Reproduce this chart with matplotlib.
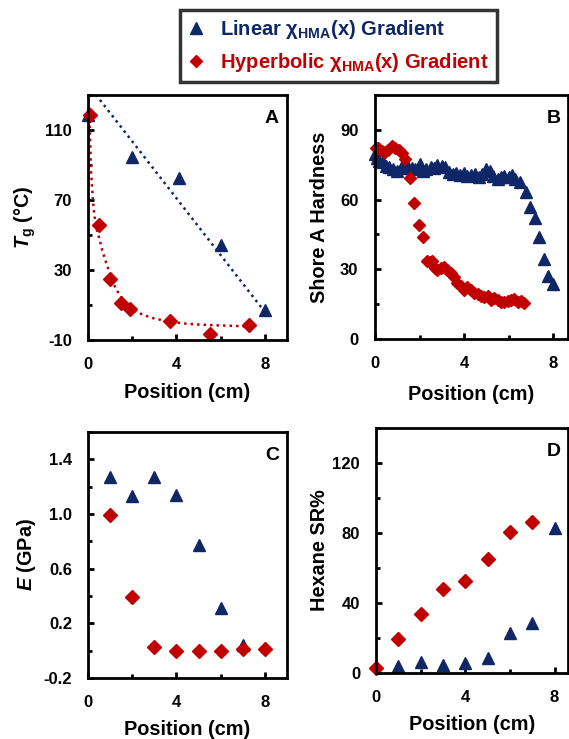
import numpy as np
import matplotlib
matplotlib.use("Agg")
import matplotlib.pyplot as plt
from matplotlib.lines import Line2D
from matplotlib.ticker import MultipleLocator

plt.rcParams['font.family'] = ['Liberation Sans', 'DejaVu Sans']
plt.rcParams['font.weight'] = 'bold'
plt.rcParams['axes.unicode_minus'] = False
plt.rcParams['mathtext.fontset'] = 'custom'
plt.rcParams['mathtext.rm'] = 'Liberation Sans:bold'
plt.rcParams['mathtext.bf'] = 'Liberation Sans:bold'
plt.rcParams['mathtext.it'] = 'Liberation Sans:italic:bold'
plt.rcParams['mathtext.bfit'] = 'Liberation Sans:italic:bold'

NAVY = '#0f2766'
RED = '#c00000'

# ---- panel A: Tg ----
tg_lin_x = [0.0, 2.0, 4.1, 6.0, 8.0]
tg_lin_y = [118.5, 94.7, 82.6, 44.1, 7.3]
tg_hyp_x = [0.1, 0.5, 1.0, 1.5, 1.9, 3.7, 5.5, 7.3]
tg_hyp_y = [118.6, 55.7, 25.0, 11.1, 7.7, 1.1, -6.7, -1.6]
# dotted trend lines
tg_lin_fit_x = [0.0, 8.0]
tg_lin_fit_y = [136.0, 6.0]
tg_hyp_fit_x = [0.0, 0.04, 0.07, 0.14, 0.22, 0.29, 0.4, 0.52, 0.66, 0.82, 1.0, 1.13,
                1.35, 1.58, 1.9, 2.18, 2.5, 2.93, 3.4, 3.83, 4.4, 5.03, 5.8, 6.54, 7.31]
tg_hyp_fit_y = [131.0, 124.0, 114.8, 86.0, 70.0, 61.0, 53.0, 47.6, 40.5, 34.2, 27.5, 22.6,
                17.5, 13.0, 9.0, 6.3, 4.3, 2.5, 1.2, 0.2, -0.6, -1.2, -1.6, -1.9, -2.3]

# ---- panel B: Shore A hardness ----
sh_lin_x = [0.0, 0.1, 0.2, 0.35, 0.5, 0.65, 0.8, 1.0, 1.15, 1.3, 1.5, 1.65, 1.8, 2.0,
            2.15, 2.3, 2.5, 2.65, 2.8, 3.0, 3.15, 3.3, 3.5, 3.65, 3.8, 4.0, 4.15, 4.3,
            4.5, 4.65, 4.8, 5.0, 5.15, 5.3, 5.5, 5.65, 5.8, 6.0, 6.15, 6.3, 6.5,
            6.76, 6.97, 7.18, 7.38, 7.57, 7.77, 7.99]
sh_lin_y = [79.5, 78.0, 76.5, 76.0, 74.5, 74.0, 73.0, 72.5, 73.5, 74.5, 74.0, 73.5, 73.0, 75.5,
            72.5, 73.0, 74.0, 73.5, 75.0, 74.5, 74.0, 72.0, 71.0, 71.5, 70.5, 71.5, 70.0, 70.5,
            71.0, 69.5, 71.0, 73.0, 72.5, 70.0, 69.0, 69.5, 70.0, 69.5, 70.5, 69.0, 67.5,
            63.2, 57.0, 52.2, 43.9, 34.3, 27.2, 23.6]
sh_hyp_x = [0.05, 0.15, 0.3, 0.45, 0.6, 0.75, 0.9, 1.06, 1.2, 1.36, 1.58, 1.73, 1.96, 2.16,
            2.34, 2.45, 2.56, 2.68, 2.79, 2.95, 3.09, 3.25, 3.39, 3.55, 3.7, 3.85, 4.0,
            4.15, 4.3, 4.45, 4.6, 4.75, 4.9, 5.05, 5.2, 5.35, 5.5, 5.65, 5.8, 5.95, 6.1,
            6.25, 6.4, 6.55, 6.7]
sh_hyp_y = [82.3, 82.0, 81.0, 80.5, 81.5, 83.0, 82.0, 81.5, 80.0, 77.5, 69.4, 58.5, 48.9, 43.9,
            33.5, 33.0, 33.5, 30.5, 29.9, 30.5, 31.0, 29.5, 28.5, 26.5, 23.9, 23.0, 21.0,
            22.5, 21.0, 20.0, 19.3, 18.5, 17.9, 18.5, 16.7, 17.5, 16.9, 16.0, 15.8, 16.5, 16.7,
            17.0, 16.0, 16.5, 15.7]

# ---- panel C: modulus ----
e_lin_x = [1, 2, 3, 4, 5, 6, 7]
e_lin_y = [1.27, 1.13, 1.27, 1.14, 0.77, 0.31, 0.04]
e_hyp_x = [1, 2, 3, 4, 5, 6, 7, 8]
e_hyp_y = [0.99, 0.39, 0.03, 0.0, 0.0, 0.0, 0.01, 0.01]

# ---- panel D: hexane swelling ratio ----
sr_lin_x = [1, 2, 3, 4, 5, 6, 7, 8]
sr_lin_y = [3.8, 6.3, 4.7, 6.0, 8.6, 22.9, 28.6, 82.9]
sr_hyp_x = [0, 1, 2, 3, 4, 5, 6, 7]
sr_hyp_y = [2.9, 19.4, 33.7, 48.0, 52.3, 65.3, 80.3, 86.3]

W, H = 569, 739
fig = plt.figure(figsize=(W / 100, H / 100), dpi=100)


def make_ax(left, top, right, bottom):
    return fig.add_axes([left / W, 1 - bottom / H, (right - left) / W, (bottom - top) / H])


def style(ax, letter, ylab, xlim, ylim, ymaj, ymin, yoff, ypad, xlab_y, ylab_x):
    ax.set_xlim(*xlim)
    ax.set_ylim(*ylim)
    ax.xaxis.set_major_locator(MultipleLocator(4))
    ax.xaxis.set_minor_locator(MultipleLocator(2))
    ax.yaxis.set_major_locator(MultipleLocator(ymaj, offset=yoff))
    ax.yaxis.set_minor_locator(MultipleLocator(ymin, offset=yoff))
    for s in ax.spines.values():
        s.set_linewidth(2.0)
    ax.tick_params(which='major', direction='in', length=4, width=2, labelsize=12,
                   top=False, right=False)
    ax.tick_params(which='minor', direction='in', length=3, width=2, top=False, right=False)
    ax.tick_params(axis='y', pad=ypad)
    ax.tick_params(axis='x', pad=12)
    for lb in ax.get_xticklabels() + ax.get_yticklabels():
        lb.set_fontweight('bold')
    ax.set_xlabel('Position (cm)', fontsize=14.3, fontweight='bold', va='top')
    ax.xaxis.set_label_coords(0.5, xlab_y)
    ax.set_ylabel(ylab, fontsize=14.3, fontweight='bold')
    ax.yaxis.set_label_coords(ylab_x, 0.5)
    ax.text(0.96, 0.94, letter, transform=ax.transAxes, ha='right', va='top',
            fontsize=14, fontweight='bold')


# A
axA = make_ax(88, 95, 287, 340)
axA.plot(tg_lin_fit_x, tg_lin_fit_y, color=NAVY, ls=(0, (1, 1.6)), lw=1.8)
axA.plot(tg_hyp_fit_x, tg_hyp_fit_y, color=RED, ls=(0, (1, 1.6)), lw=1.8)
axA.plot(tg_lin_x, tg_lin_y, '^', color=NAVY, ms=9, ls='none', clip_on=False)
axA.plot(tg_hyp_x, tg_hyp_y, 'D', color=RED, ms=7, ls='none', clip_on=False)
style(axA, 'A', r'$\mathbfit{T}_{\mathbf{g}}$ (°C)', (0, 9), (-10, 130), 40, 20, -10, 11.5,
      -0.175, -0.25)

# B
axB = make_ax(375, 95, 568, 339)
axB.plot(sh_lin_x, sh_lin_y, '^', color=NAVY, ms=8.5, ls='none', clip_on=False)
axB.plot(sh_hyp_x, sh_hyp_y, 'D', color=RED, ms=6.5, ls='none', clip_on=False)
style(axB, 'B', 'Shore A Hardness', (0, 8.66), (0, 105), 30, 15, 0, 12, -0.19, -0.24)

# C
axC = make_ax(88, 432, 287, 678)
axC.plot(e_lin_x, e_lin_y, '^', color=NAVY, ms=9, ls='none', clip_on=False)
axC.plot(e_hyp_x, e_hyp_y, 'D', color=RED, ms=7, ls='none', clip_on=False)
style(axC, 'C', r'$\mathbfit{E}$ (GPa)', (0, 9), (-0.2, 1.6), 0.4, 0.2, 0.2, 11.5, -0.17, -0.25)

# D
axD = make_ax(376, 428, 568, 673)
axD.plot(sr_lin_x, sr_lin_y, '^', color=NAVY, ms=9, ls='none', clip_on=False)
axD.plot(sr_hyp_x, sr_hyp_y, 'D', color=RED, ms=7, ls='none', clip_on=False)
style(axD, 'D', 'Hexane SR%', (0, 8.6), (0, 140), 40, 20, 0, 11.5, -0.17, -0.245)

# legend at top
handles = [Line2D([], [], marker='^', color=NAVY, ls='none', ms=8),
           Line2D([], [], marker='D', color=RED, ls='none', ms=6)]
labels = [r'Linear χ$_{\mathbf{HMA}}$(x) Gradient',
          r'Hyperbolic χ$_{\mathbf{HMA}}$(x) Gradient']
leg = fig.legend(handles, labels, loc='upper left', bbox_to_anchor=(180 / W, 1 - 10 / H),
                 fontsize=14.5, frameon=True, fancybox=False, edgecolor='black',
                 handlelength=0.8, handletextpad=0.8, borderpad=0.4, labelspacing=0.5,
                 borderaxespad=0)
leg.get_frame().set_linewidth(2.5)
for t, c in zip(leg.get_texts(), [NAVY, RED]):
    t.set_color(c)
    t.set_fontweight('bold')

fig.savefig('out.png', dpi=100)
